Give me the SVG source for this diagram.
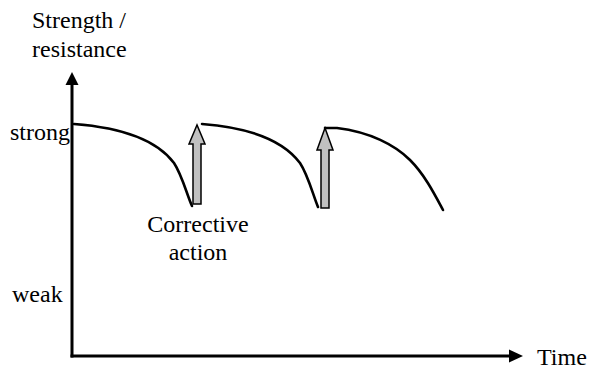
<svg xmlns="http://www.w3.org/2000/svg" width="592" height="369" viewBox="0 0 592 369">
<style>
.t{font-family:'Liberation Serif','Times New Roman','DejaVu Serif',serif;font-size:24px;fill:#000}
.curve{fill:none;stroke:#000;stroke-width:2.6;stroke-linecap:round;stroke-linejoin:round}
.axis{fill:none;stroke:#000;stroke-width:3}
.up{fill:#c0c0c0;stroke:#000;stroke-width:1.5;stroke-linejoin:miter}
</style>
<rect width="592" height="369" fill="#fff"/>
<g id="axes">
<line class="axis" x1="72" y1="84" x2="72" y2="357.5"/>
<line class="axis" x1="70.5" y1="356" x2="510" y2="356"/>
<polygon points="72,72 78.5,85 65.5,85" fill="#000"/>
<polygon points="523,356 509,349.5 509,362.5" fill="#000"/>
</g>
<g id="labels" font-family="Liberation Serif, Times New Roman, serif" font-size="24">
<text class="t" x="32" y="28">Strength /</text>
<text class="t" x="32" y="57">resistance</text>
<text class="t" x="10" y="140">strong</text>
<text class="t" x="12" y="302">weak</text>
<text class="t" x="537" y="365">Time</text>
<text class="t" x="198" y="232" text-anchor="middle">Corrective</text>
<text class="t" x="198" y="260" text-anchor="middle">action</text>
</g>
<g id="connectors">
<path id="curve1" class="curve" d="M74,124 C127,128 159,143 174,163 C182,175 187,195 192,206"/>
<path id="curve2" class="curve" d="M202,124 C255,128 285,143 300,163 C308,175 313,195 318,207"/>
<path id="curve3" class="curve" d="M325,128 L337,128 C370,132 395,145 410,160 C425,175 435,195 443,210"/>
</g>
<g id="action1">
<polygon class="up" points="193,204 201,204 201,144 205,144 197,125 189,144 193,144"/>
</g>
<g id="action2">
<polygon class="up" points="321,208 329,208 329,150 333,150 325,128 317,150 321,150"/>
</g>
</svg>
